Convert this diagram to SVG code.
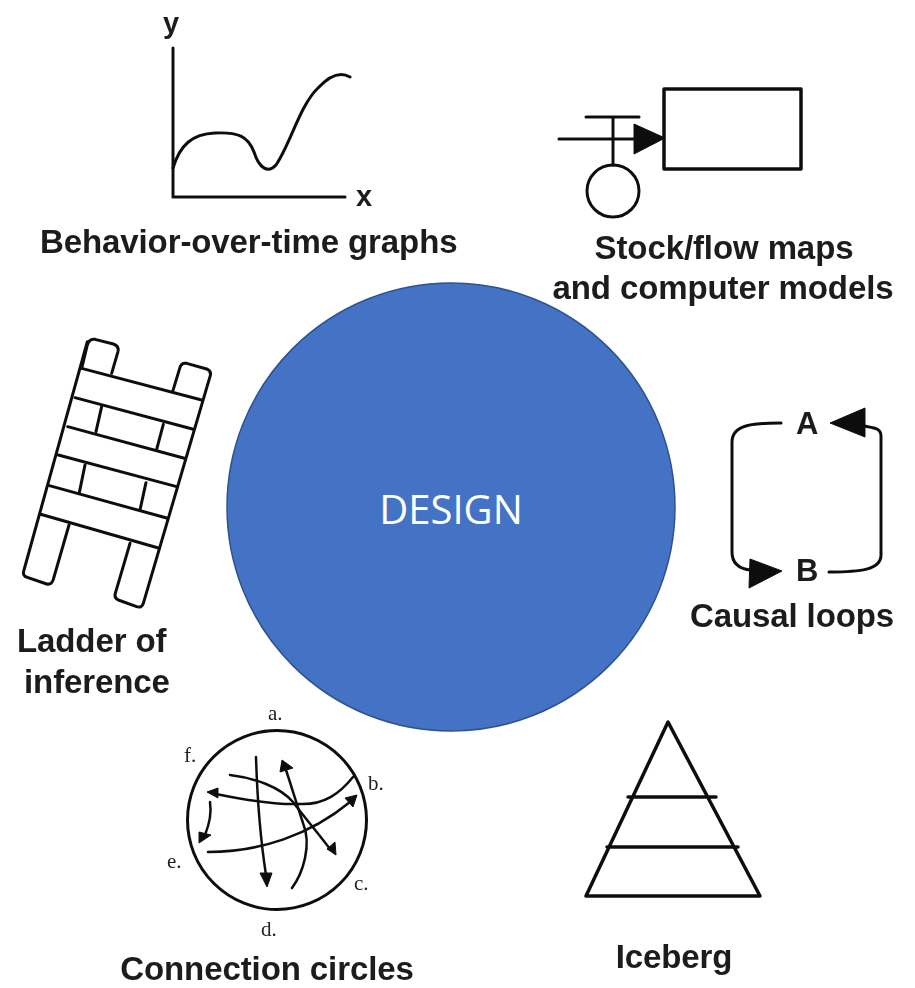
<svg xmlns="http://www.w3.org/2000/svg" width="915" height="988" viewBox="0 0 915 988">
<style>
.l{font-family:"Liberation Sans",Arial,sans-serif;font-weight:bold;font-size:33px;letter-spacing:-0.1px;fill:#1c1c1c}
.m{font-size:29px}
.s{font-family:"Liberation Serif","Times New Roman",serif;font-size:21px;fill:#222}
.k{fill:none;stroke:#111;stroke-width:3;stroke-linecap:round;stroke-linejoin:round}
.f{fill:#111;stroke:#111;stroke-width:1;stroke-linejoin:round}
</style>
<defs><filter id="b" x="-5%" y="-5%" width="110%" height="110%"><feGaussianBlur stdDeviation="0.6"/></filter></defs>
<rect width="915" height="988" fill="#fff"/>
<g id="behavior-graph" filter="url(#b)">
<path class="k" d="M173 48V197H345"/>
<path class="k" d="M173 168C180 145 192 134 215 133C238 132 248 136 254 152C259 168 268 174 276 165C290 145 300 105 318 88C330 75 340 71 350 77"/>
<text class="l m" x="163" y="33">y</text>
<text class="l m" x="356" y="206">x</text>
<text class="l" x="40" y="253">Behavior-over-time graphs</text>
</g>
<g id="stock-flow" filter="url(#b)">
<rect class="k" x="664" y="89" width="137" height="80" style="stroke-width:3.5"/>
<path class="k" d="M559 139H640M586 117H639M613 117V165"/>
<path class="f" d="M634 124L665 138L634 154Z"/>
<circle class="k" cx="613" cy="191" r="26"/>
<text class="l" x="724" y="259" text-anchor="middle">Stock/flow maps</text>
<text class="l" x="723" y="299" text-anchor="middle">and computer models</text>
</g>
<g id="causal-loops" filter="url(#b)">
<path class="k" d="M781 423C755 423 732 424 732 442V552C732 565 742 569 750 570"/>
<path class="k" d="M829 572C860 572 881 570 881 555V436C881 428 874 428 864 426"/>
<path class="f" d="M750 559L782 571L749 588Z"/>
<path class="f" d="M830 423L865 408V437Z"/>
<text class="l" style="font-size:31px" x="796" y="434">A</text>
<text class="l" style="font-size:31px" x="796" y="581">B</text>
<text class="l" x="792" y="627" text-anchor="middle">Causal loops</text>
</g>
<g id="ladder" filter="url(#b)">
<g class="k" transform="translate(0,330) scale(0.3333)" style="stroke-width:9">
<path d="M245 115L262 45Q268 25 285 28L340 42Q358 48 354 65L335 130"/>
<path d="M518 185L540 112Q545 97 560 100L620 117Q636 124 630 140L430 820Q426 835 410 830L355 810Q342 804 346 790L390 640"/>
<path d="M262 35L72 720Q66 738 82 742L140 762Q155 765 160 748L207 585"/>
<path d="M245 115L605 210M225 203L580 298M203 290L553 385M175 375L530 470M148 467L503 565M122 553L478 655"/>
<path d="M305 230L288 305M490 283L470 358M255 405L238 488M438 458L420 540"/>
</g>
<text class="l" x="17" y="652">Ladder of</text>
<text class="l" x="24" y="693">inference</text>
</g>
<g id="connection-circles" filter="url(#b)">
<circle class="k" cx="277" cy="820" r="89.5"/>
<g class="k" style="stroke-width:2.5">
<path d="M256 757C257 790 259 830 266 875"/>
<path d="M230 775C255 778 280 787 293 802C305 818 318 833 330 849"/>
<path d="M353 777C340 793 325 805 300 804C275 805 245 800 216 794"/>
<path d="M292 888C303 873 312 845 303 823C297 805 291 785 286 770"/>
<path d="M208 852C260 852 310 835 350 802"/>
<path d="M210 802C212 815 209 825 205 835"/>
</g>
<g class="f">
<path d="M267 887L260 873L272 873Z"/>
<path d="M282 760L280 772L293 768Z"/>
<path d="M207 792L218 788L218 798Z"/>
<path d="M336 855L327 849L335 842Z"/>
<path d="M357 795L345 798L353 807Z"/>
<path d="M199 843L199 832L211 835Z"/>
</g>
<text class="s" x="268" y="720">a.</text>
<text class="s" x="368" y="790">b.</text>
<text class="s" x="354" y="890">c.</text>
<text class="s" x="261" y="936">d.</text>
<text class="s" x="167" y="868">e.</text>
<text class="s" x="184" y="762">f.</text>
<text class="l" x="267" y="980" text-anchor="middle">Connection circles</text>
</g>
<g id="iceberg" filter="url(#b)">
<path class="k" style="stroke-width:3.5" d="M668 722L586 896H760ZM628 797H716M607 847H738"/>
<text class="l" x="674" y="968" text-anchor="middle">Iceberg</text>
</g>
<g id="design">
<circle cx="451" cy="507" r="224" fill="#4472c4" stroke="#2f528f" stroke-width="1.5"/>
<text x="451" y="524" text-anchor="middle" font-family="'Open Sans','Noto Sans',sans-serif" font-size="40" fill="#fff">DESIGN</text>
</g>
</svg>
